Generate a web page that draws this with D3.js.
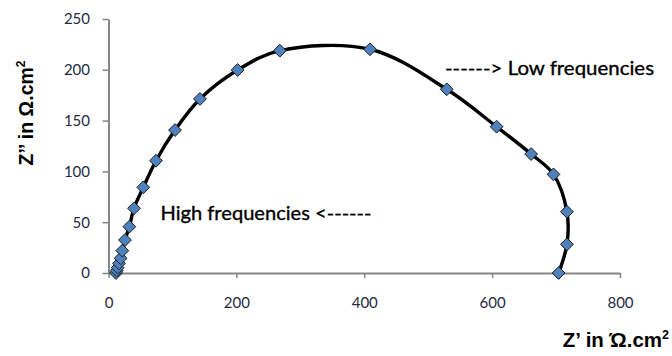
<!DOCTYPE html>
<html><head><meta charset="utf-8">
<script src="https://cdn.jsdelivr.net/npm/d3@7"></script>
<style>
body{margin:0;background:#fff;}
svg{display:block;}
</style></head>
<body>
<script>
// Data: Nyquist plot (from high frequency to low frequency)
const zReal = [11.7, 12.8, 14.4, 16.4, 19, 21.6, 25.8, 32.6, 39.9, 54.4, 74.3, 104, 143, 202, 268, 409, 529, 607, 661, 696, 717, 717, 704];
const zImag = [0, 2.3, 5.2, 9.5, 14.5, 22, 32.5, 45.6, 63.7, 84.3, 110.5, 140.7, 171.3, 199.8, 218.8, 220.2, 180.8, 144, 117.1, 97.1, 60.3, 28.2, 0];
const xTicks = [0, 200, 400, 600, 800];
const yTicks = [0, 50, 100, 150, 200, 250];

const W = 672, H = 356;
const m = {left: 108.5, right: 52, top: 19, bottom: 83};
const svg = d3.select("body").append("svg").attr("width", W).attr("height", H);

const x = d3.scaleLinear().domain([0, 800]).range([m.left, W - m.right]);
const y = d3.scaleLinear().domain([0, 250]).range([H - m.bottom, m.top]);

const axisColor = "#868686";
const tickFont = "Lato, 'Open Sans', sans-serif";

// X axis
const gx = svg.append("g").attr("transform", `translate(0,${H - m.bottom})`)
  .call(d3.axisBottom(x).tickValues(xTicks).tickSize(5).tickSizeOuter(0).tickPadding(19));
gx.select(".domain").attr("stroke", axisColor).attr("stroke-width", 2);
gx.selectAll(".tick line").attr("stroke", axisColor).attr("stroke-width", 1.5);
gx.selectAll(".tick text").attr("font-family", tickFont).attr("font-size", 15).attr("fill", "#1f2a44");

// Y axis
const gy = svg.append("g").attr("transform", `translate(${m.left},0)`)
  .call(d3.axisLeft(y).tickValues(yTicks).tickSize(6).tickSizeOuter(0).tickPadding(12.5));
gy.select(".domain").attr("stroke", axisColor).attr("stroke-width", 2);
gy.selectAll(".tick line").attr("stroke", axisColor).attr("stroke-width", 1.5);
gy.selectAll(".tick text").attr("font-family", tickFont).attr("font-size", 15).attr("fill", "#1f2a44");

// Line
const pts = zReal.map((v, i) => [v, zImag[i]]);
const line = d3.line().x(d => x(d[0])).y(d => y(d[1])).curve(d3.curveCatmullRom.alpha(0.5));
svg.append("path").datum(pts).attr("d", line)
  .attr("fill", "none").attr("stroke", "#000").attr("stroke-width", 3.4);

// Markers (diamonds)
const r = 6.4;
svg.append("g").selectAll("path").data(pts).join("path")
  .attr("d", d => { const cx = x(d[0]), cy = y(d[1]);
    return `M${cx},${cy - r}L${cx + r},${cy}L${cx},${cy + r}L${cx - r},${cy}Z`; })
  .attr("fill", "#4f81bd").attr("stroke", "#1b1b1b").attr("stroke-width", 1);

// Annotations
const annFont = "Lato, 'Open Sans', sans-serif";
svg.append("text").attr("x", 160.5).attr("y", 220).attr("font-family", annFont)
  .attr("font-size", 19).attr("fill", "#000").attr("stroke", "#000").attr("stroke-width", 0.35)
  .attr("textLength", 211).attr("lengthAdjust", "spacingAndGlyphs")
  .text("High frequencies <------");
svg.append("text").attr("x", 445).attr("y", 75).attr("font-family", annFont)
  .attr("font-size", 19).attr("fill", "#000").attr("stroke", "#000").attr("stroke-width", 0.35)
  .attr("textLength", 209).attr("lengthAdjust", "spacingAndGlyphs")
  .text("------> Low frequencies");

// Axis titles
const titleFont = "'Liberation Sans', Arial, sans-serif";
const yt = svg.append("text").attr("transform", "translate(33,113) rotate(-90)")
  .attr("text-anchor", "middle").attr("font-family", titleFont).attr("font-weight", "bold")
  .attr("font-size", 19.5).attr("fill", "#000");
yt.append("tspan").text("Z’’ in Ω.cm");
yt.append("tspan").attr("dy", -8).attr("font-size", 12).text("2");

const xt = svg.append("text").attr("x", 669).attr("y", 347)
  .attr("text-anchor", "end").attr("font-family", titleFont).attr("font-weight", "bold")
  .attr("font-size", 20.5).attr("fill", "#000");
xt.append("tspan").text("Z’ in Ώ.cm");
xt.append("tspan").attr("dy", -8).attr("font-size", 12.5).text("2");
</script>
</body></html>
